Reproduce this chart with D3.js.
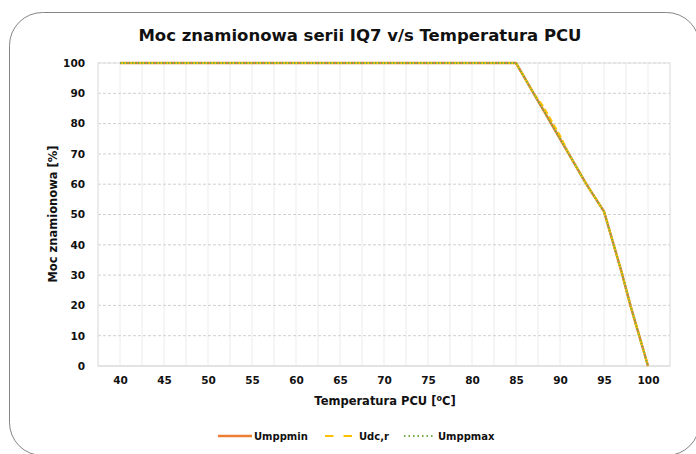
<!DOCTYPE html>
<html><head><meta charset="utf-8">
<script src="https://cdn.jsdelivr.net/npm/d3@7"></script>
<style>body{margin:0;background:#fff}svg{display:block}text{font-family:"DejaVu Sans",sans-serif;font-weight:700;fill:#111}</style>
</head><body><svg id="c" width="696" height="454"></svg>
<script>
const temps = [40,45,50,55,60,65,70,75,80,85,86,87,88,89,90,91,92,93,94,95,96,97,98,99,100];
const umppmin = [100,100,100,100,100,100,100,100,100,100,95,90,85,80,75,70,65,60,55.5,51,41,31,20,10,0];
const udcr    = [100,100,100,100,100,100,100,100,100,100,95,90,86,81,76,70,65,60,55.5,51,41,31,20,10,0];
const umppmax = [100,100,100,100,100,100,100,100,100,100,95,90,85,80,75,70,65,60,55.5,51,41,31,20,10,0];
const xTicks = [40,45,50,55,60,65,70,75,80,85,90,95,100];
const yTicks = [0,10,20,30,40,50,60,70,80,90,100];
const seriesNames = ["Umppmin","Udc,r","Umppmax"];

const svg = d3.select("#c");
svg.append("rect").attr("x",9.5).attr("y",12.5).attr("width",690).attr("height",443).attr("rx",33)
  .attr("fill","#fff").attr("stroke","#858585").attr("stroke-width",1);

const L=98,R=670,T=63,B=366;
const x = d3.scaleLinear().domain([37.5,102.5]).range([L,R]);
const y = d3.scaleLinear().domain([0,100]).range([B,T]);

// vertical grid
const vg = d3.range(37.5,102.6,2.5);
svg.append("g").selectAll("line").data(vg).join("line")
  .attr("x1",d=>x(d)).attr("x2",d=>x(d)).attr("y1",T).attr("y2",B)
  .attr("stroke","#ececec").attr("stroke-width",1);
// horizontal grid
svg.append("g").selectAll("line").data(yTicks.filter(d=>d>0)).join("line")
  .attr("x1",L).attr("x2",R).attr("y1",d=>y(d)).attr("y2",d=>y(d))
  .attr("stroke","#cfcfcf").attr("stroke-width",1).attr("stroke-dasharray","3,2");
svg.append("rect").attr("x",L).attr("y",T).attr("width",R-L).attr("height",B-T)
  .attr("fill","none").attr("stroke","#e2e2e2");
svg.append("line").attr("x1",L).attr("x2",R).attr("y1",B).attr("y2",B).attr("stroke","#d6d6d6");

// axes labels
const xa = svg.append("g").attr("transform",`translate(0,${B})`)
  .call(d3.axisBottom(x).tickValues(xTicks).tickSize(0).tickPadding(11));
xa.select(".domain").remove();
xa.selectAll("text").style("font-size","10.5px").attr("fill","#111");
const ya = svg.append("g").attr("transform",`translate(${L},0)`)
  .call(d3.axisLeft(y).tickValues(yTicks).tickSize(0).tickPadding(13));
ya.select(".domain").remove();
ya.selectAll("text").style("font-size","10.5px").attr("fill","#111");

// lines
const mk = vals => d3.line().x((d,i)=>x(temps[i])).y(d=>y(d))(vals);
svg.append("path").attr("d",mk(umppmin)).attr("fill","none").attr("stroke","#ED7D31").attr("stroke-width",2.5);
svg.append("path").attr("d",mk(udcr)).attr("fill","none").attr("stroke","#FFC000").attr("stroke-width",2.2).attr("stroke-dasharray","6,3");
svg.append("path").attr("d",mk(umppmax)).attr("fill","none").attr("stroke","#70AD47").attr("stroke-width",1.8).attr("stroke-dasharray","1.5,1.5");

// titles
svg.append("text").attr("x",360).attr("y",41).attr("text-anchor","middle").style("font-size","16.5px").text("Moc znamionowa serii IQ7 v/s Temperatura PCU");
svg.append("text").attr("transform",`translate(57,214) rotate(-90)`).attr("text-anchor","middle").style("font-size","11.5px").text("Moc znamionowa [%]");
const xt = svg.append("text").attr("x",385).attr("y",405).attr("text-anchor","middle").style("font-size","11.5px");
xt.append("tspan").text("Temperatura PCU [");
xt.append("tspan").attr("dy",-4).style("font-size","8px").text("o");
xt.append("tspan").attr("dy",4).text("C]");

// legend
const lg = svg.append("g").attr("transform","translate(0,436)");
const items = [
  {x1:218, x2:252, tx:254, stroke:"#ED7D31", dash:null, w:2.5},
  {x1:325, x2:352, tx:359, stroke:"#FFC000", dash:"8.5,10", w:2.2},
  {x1:404, x2:433, tx:438, stroke:"#70AD47", dash:"1.5,3", w:1.8}
];
items.forEach((it,i)=>{
  lg.append("line").attr("x1",it.x1).attr("x2",it.x2).attr("y1",0).attr("y2",0)
    .attr("stroke",it.stroke).attr("stroke-width",it.w).attr("stroke-dasharray",it.dash);
  lg.append("text").attr("x",it.tx).attr("y",4).style("font-size","10px").text(seriesNames[i]);
});
</script></body></html>
